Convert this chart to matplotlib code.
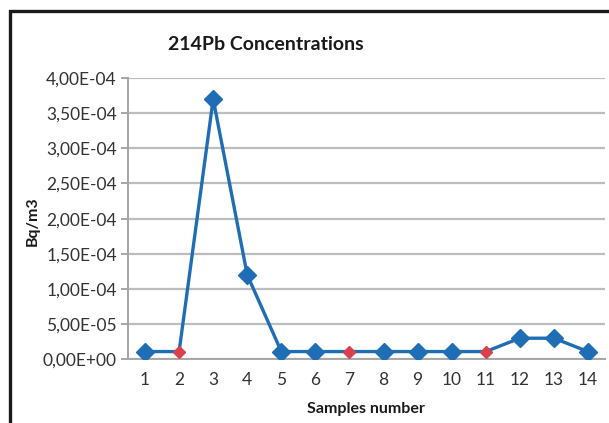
import matplotlib
matplotlib.use("Agg")
import matplotlib.pyplot as plt
from matplotlib.patches import Rectangle
from matplotlib.ticker import FuncFormatter, MultipleLocator

samples = list(range(1, 15))
values = [1.1e-5, 1.1e-5, 3.7e-4, 1.2e-4, 1.1e-5, 1.1e-5, 1.1e-5,
          1.1e-5, 1.1e-5, 1.1e-5, 1.1e-5, 3.0e-5, 3.0e-5, 1.1e-5]
red_samples = [2, 7, 11]
title = "214Pb Concentrations"
xlabel = "Samples number"
ylabel = "Bq/m3"

plt.rcParams['font.family'] = ['Lato', 'DejaVu Sans']

W, H = 609, 423
fig = plt.figure(figsize=(W / 100, H / 100), dpi=100)
ax = fig.add_axes([128 / W, 1 - 359.3 / H, (605 - 128) / W, (359.3 - 78) / H])

blue = '#1F6EB5'
red = '#D9404E'
ax.plot(samples, values, color=blue, lw=2.4, zorder=3)
blue_x = [s for s in samples if s not in red_samples]
blue_y = [v for s, v in zip(samples, values) if s not in red_samples]
red_y = [v for s, v in zip(samples, values) if s in red_samples]
ax.plot(blue_x, blue_y, ls='none', marker='D', ms=9.5, color=blue, zorder=4)
ax.plot(red_samples, red_y, ls='none', marker='D', ms=6.5, color=red, zorder=4)

ax.set_xlim(0.5, 14.5)
ax.set_ylim(0, 4e-4)
ax.yaxis.set_major_locator(MultipleLocator(5e-5))
ax.yaxis.set_major_formatter(FuncFormatter(lambda v, p: f"{v:.2E}".replace('.', ',')))
ax.set_xticks(samples)
ax.set_xticklabels([str(s) for s in samples])
ax.grid(axis='y', color='#BDBDBD', lw=1.6, zorder=0)
ax.set_axisbelow(True)
for side in ['top', 'right']:
    ax.spines[side].set_visible(False)
for side in ['left', 'bottom']:
    ax.spines[side].set_color('#A6A6A6')
    ax.spines[side].set_linewidth(1.4)
ax.tick_params(axis='y', length=5, width=1.4, color='#A6A6A6', labelsize=12.5,
               labelcolor='#333333', pad=3)
ax.tick_params(axis='x', length=0, labelsize=12.5, labelcolor='#333333', pad=9)

fig.text(266 / W, 1 - 44 / H, title, ha='center', va='center', fontsize=14,
         fontweight='bold', color='#1a1a1a')
fig.text(366 / W, 1 - 409 / H, xlabel, ha='center', va='center', fontsize=11.5,
         fontweight='bold', color='#1a1a1a')
fig.text(33 / W, 1 - 221 / H, ylabel, ha='center', va='center', fontsize=11.5,
         fontweight='bold', color='#1a1a1a', rotation=90)

fig.patches.append(Rectangle((9.5 / W, -0.1), 1.2, 1 - 11.5 / H + 0.1,
                             transform=fig.transFigure, fill=False,
                             edgecolor='#1a1a1a', lw=2.4))

fig.savefig('out.png', dpi=100)
